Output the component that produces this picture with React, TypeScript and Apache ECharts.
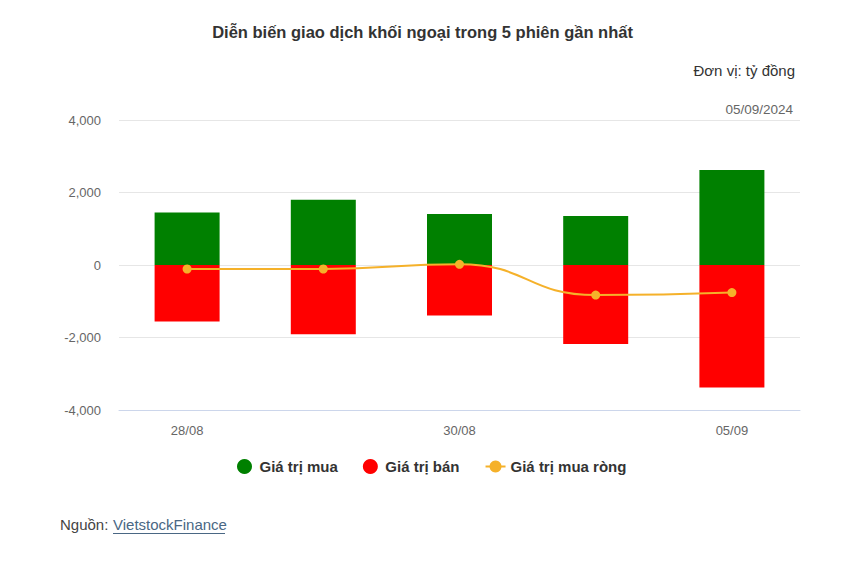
import React, { useEffect, useRef } from "react";
import * as echarts from "echarts";

const categories = ["28/08", "29/08", "30/08", "04/09", "05/09"];
const buyValues = [1450, 1800, 1410, 1350, 2620];
const sellValues = [-1560, -1910, -1390, -2180, -3380];
const netValues = [-110, -110, 20, -830, -760];
const yTicks = { min: -4000, max: 4000, interval: 2000 };

const FONT = "'Liberation Sans', Arial, sans-serif";

export default function App() {
  const ref = useRef<HTMLDivElement>(null);
  useEffect(() => {
    if (!ref.current) return;
    const chart = echarts.init(ref.current, null, { renderer: "svg" });
    chart.setOption({
      animation: false,
      backgroundColor: "#ffffff",
      textStyle: { fontFamily: FONT },
      title: {
        text: "Diễn biến giao dịch khối ngoại trong 5 phiên gần nhất",
        left: "center",
        top: 18,
        textStyle: { fontSize: 16.5, fontWeight: "bold", color: "#333333", fontFamily: FONT },
      },
      graphic: [
        {
          type: "text",
          right: 50,
          top: 63,
          style: { text: "Đơn vị: tỷ đồng", fontSize: 15, fill: "#333333", fontFamily: FONT },
        },
        {
          type: "text",
          right: 52,
          top: 102,
          style: { text: "05/09/2024", fontSize: 13.5, fill: "#666666", fontFamily: FONT },
        },
        {
          type: "text",
          left: 60,
          top: 517,
          style: { text: "Nguồn: ", fontSize: 15, fill: "#444444", fontFamily: FONT },
        },
        {
          type: "text",
          left: 113,
          top: 517,
          style: { text: "VietstockFinance", fontSize: 15, fill: "#4a6784", fontFamily: FONT },
        },
        {
          type: "line",
          shape: { x1: 113, y1: 533.5, x2: 225, y2: 533.5 },
          style: { stroke: "#4a6784", lineWidth: 1 },
        },
      ],
      legend: {
        top: 454,
        left: 232,
        itemGap: 25,
        itemWidth: 20,
        itemHeight: 15,
        textStyle: { fontSize: 15, fontWeight: "bold", color: "#333333", fontFamily: FONT },
        data: [
          { name: "Giá trị mua", icon: "circle" },
          { name: "Giá trị bán", icon: "circle" },
          { name: "Giá trị mua ròng" },
        ],
      },
      grid: { left: 119, right: 45, top: 120, bottom: 157, containLabel: false },
      xAxis: {
        type: "category",
        data: categories,
        axisLine: { onZero: false, lineStyle: { color: "#ccd6eb" } },
        axisTick: { show: false },
        axisLabel: { interval: 1, color: "#666666", fontSize: 13, margin: 14 },
      },
      yAxis: {
        type: "value",
        min: yTicks.min,
        max: yTicks.max,
        interval: yTicks.interval,
        axisLine: { show: false },
        axisTick: { show: false },
        splitLine: { lineStyle: { color: "#e6e6e6" } },
        axisLabel: {
          color: "#666666",
          fontSize: 13,
          margin: 18,
          formatter: (v: number) => v.toLocaleString("en-US"),
        },
      },
      series: [
        {
          name: "Giá trị mua",
          type: "bar",
          stack: "total",
          data: buyValues,
          barWidth: 65,
          itemStyle: { color: "#008000" },
        },
        {
          name: "Giá trị bán",
          type: "bar",
          stack: "total",
          data: sellValues,
          barWidth: 65,
          itemStyle: { color: "#ff0000" },
        },
        {
          name: "Giá trị mua ròng",
          type: "line",
          data: netValues,
          smooth: true,
          symbol: "circle",
          symbolSize: 9,
          lineStyle: { color: "#f5b12a", width: 2 },
          itemStyle: { color: "#f5b12a" },
          z: 5,
        },
      ],
    });
    return () => chart.dispose();
  }, []);
  return (
    <div
      ref={ref}
      style={{ position: "absolute", left: 0, top: 0, width: 845, height: 567 }}
    />
  );
}
